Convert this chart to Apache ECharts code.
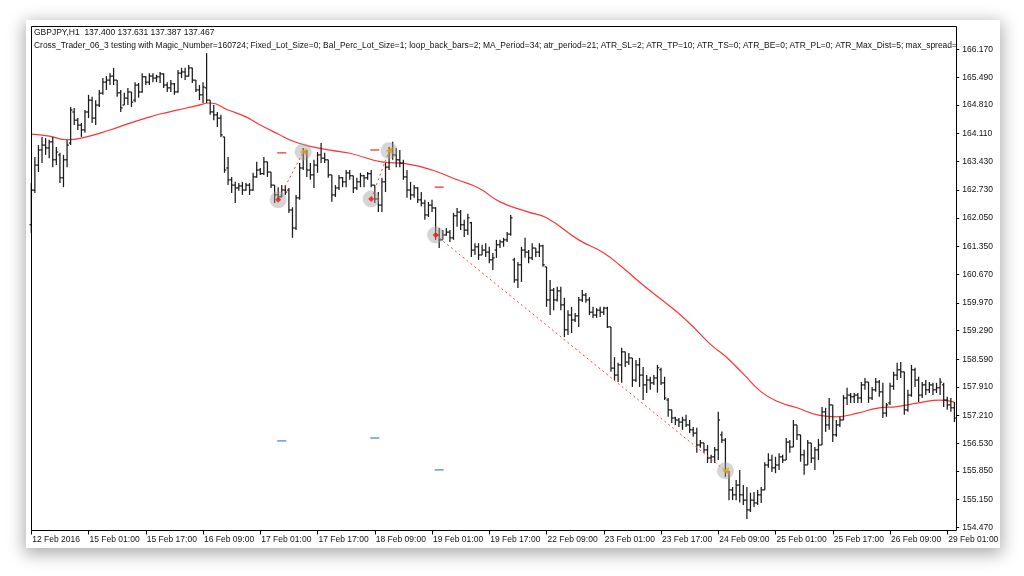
<!DOCTYPE html>
<html><head><meta charset="utf-8">
<script src="https://cdn.jsdelivr.net/npm/echarts@6/dist/echarts.min.js"></script>
<style>
html,body{margin:0;padding:0;background:#fff;}
#wrap{position:relative;width:1024px;height:576px;overflow:hidden;background:#fff;}
#panel{position:absolute;left:26px;top:20px;width:974px;height:528px;background:#fff;box-shadow:0 4px 16px 2px rgba(0,0,0,0.33);}
#chart{position:absolute;left:0;top:0;width:1024px;height:576px;}
</style></head>
<body><div id="wrap"><div id="panel"></div><div id="chart"></div></div>
<script>
// ---- data (GBPJPY H1) ----
const opens = [
161.88,162.73,163.34,163.71,163.83,163.76,163.91,163.47,163.59,163.03,
163.47,163.88,164.64,164.44,164.32,164.20,164.64,164.93,164.49,164.81,
165.10,165.37,165.42,165.52,165.42,165.11,164.81,164.98,165.13,164.93,
165.30,165.13,165.50,165.37,165.52,165.47,165.50,165.57,165.30,165.23,
165.33,165.13,165.59,165.62,165.52,165.72,165.42,165.18,165.06,165.23,
164.93,164.64,164.57,164.49,164.03,163.27,162.98,162.85,162.78,162.83,
162.73,162.85,162.73,163.05,163.22,163.13,163.42,163.17,162.85,162.61,
162.56,162.73,162.73,162.24,161.80,162.54,163.27,163.66,163.22,163.10,
163.34,163.59,163.51,163.47,163.10,162.61,162.78,163.03,162.93,163.15,
163.08,162.78,162.93,163.08,163.03,163.13,162.85,162.51,162.36,162.93,
163.29,163.71,163.59,163.47,163.39,163.05,162.73,162.61,162.78,162.49,
162.41,162.12,162.36,162.29,161.63,161.51,161.63,161.70,161.56,162.10,
162.19,161.88,161.75,161.93,161.26,161.34,161.14,161.26,161.21,161.02,
161.26,161.39,161.46,161.51,161.65,161.02,160.53,160.90,161.26,161.21,
161.07,161.31,161.21,161.36,160.85,160.04,160.28,160.04,160.26,159.92,
159.31,159.67,159.55,159.65,160.04,160.16,160.04,159.74,159.67,159.79,
159.74,159.84,159.38,158.37,158.20,158.45,158.77,158.52,158.62,158.08,
158.45,158.20,157.96,158.08,158.01,158.13,158.33,158.01,157.59,157.35,
157.15,157.10,157.05,157.10,156.98,156.86,156.78,156.49,156.54,156.37,
156.17,156.20,156.37,156.74,156.61,155.83,155.39,155.27,155.51,155.27,
155.14,154.90,155.14,155.07,155.27,155.39,156.00,156.12,155.93,156.00,
156.20,156.12,156.56,156.44,156.98,156.74,156.25,156.00,156.54,156.17,
156.37,156.49,157.30,156.98,157.47,156.74,156.98,157.10,157.64,157.71,
157.67,157.71,157.64,157.96,158.03,157.64,157.84,158.03,157.79,157.27,
157.52,157.93,158.20,158.33,158.28,157.35,157.71,158.33,158.08,157.71,
157.96,157.84,157.96,157.84,157.89,157.96,157.59,157.47,157.40];
const closes = [
162.73,163.34,163.71,163.83,163.76,163.91,163.47,163.66,163.03,163.47,
163.83,164.69,164.44,164.32,164.20,164.64,164.93,164.49,164.81,165.10,
165.37,165.42,165.52,165.42,165.11,164.74,164.98,165.13,164.88,165.30,
165.13,165.50,165.37,165.52,165.47,165.50,165.57,165.30,165.23,165.33,
165.13,165.59,165.62,165.52,165.72,165.42,165.18,165.06,165.25,164.93,
164.64,164.57,164.49,164.08,163.22,162.98,162.85,162.78,162.83,162.73,
162.85,162.73,163.05,163.22,163.13,163.42,163.17,162.85,162.61,162.56,
162.73,162.68,162.24,161.80,162.54,163.27,163.66,163.22,163.10,163.34,
163.59,163.51,163.47,163.10,162.61,162.78,163.03,162.93,163.15,163.08,
162.78,162.93,163.08,163.03,163.13,162.85,162.51,162.36,162.93,163.29,
163.71,163.59,163.47,163.39,163.05,162.73,162.61,162.78,162.49,162.41,
162.12,162.36,162.29,161.63,161.51,161.63,161.70,161.56,162.10,162.19,
161.88,161.75,162.05,161.26,161.34,161.14,161.26,161.21,161.02,161.07,
161.39,161.46,161.51,161.65,162.05,160.53,160.90,161.26,161.21,161.07,
161.31,161.21,161.36,160.90,160.04,160.28,160.04,160.26,159.92,159.31,
159.67,159.55,159.65,160.04,160.16,160.04,159.74,159.67,159.79,159.74,
159.84,159.38,158.37,158.20,158.45,158.77,158.52,158.62,158.08,158.45,
158.20,157.96,158.08,158.01,158.13,158.38,158.01,157.64,157.35,157.15,
157.10,157.05,157.10,156.98,156.86,156.78,156.49,156.54,156.37,156.17,
156.20,156.37,157.10,156.61,155.83,155.39,155.27,155.51,155.27,155.14,
154.90,155.14,155.07,155.27,155.39,156.00,156.12,155.93,156.00,156.20,
156.12,156.56,156.44,156.98,156.74,156.25,156.00,156.54,156.17,156.37,
156.49,157.30,156.98,157.47,156.74,156.98,157.10,157.64,157.71,157.67,
157.71,157.64,157.96,158.03,157.64,157.84,158.03,157.79,157.27,157.47,
157.93,158.20,158.33,158.28,157.35,157.71,158.33,158.08,157.71,157.96,
157.84,157.96,157.84,157.89,158.03,157.59,157.47,157.40,157.15];
const lows = [
161.68,162.66,163.17,163.39,163.59,163.51,163.29,163.34,162.90,162.80,
163.29,163.83,164.32,164.20,164.03,164.13,164.49,164.37,164.32,164.76,
165.06,165.18,165.30,165.30,165.01,164.64,164.81,164.81,164.76,164.88,
164.99,165.11,165.30,165.30,165.37,165.37,165.35,165.23,165.13,165.13,
165.06,165.11,165.47,165.42,165.50,165.35,165.13,164.93,164.86,164.86,
164.57,164.44,164.27,164.03,163.15,162.85,162.66,162.41,162.71,162.61,
162.71,162.61,162.71,163.03,163.10,163.10,163.05,162.78,162.41,162.49,
162.56,162.61,162.17,161.56,161.75,162.49,163.22,163.05,162.98,162.78,
163.15,163.39,163.39,163.03,162.44,162.56,162.73,162.80,162.80,162.98,
162.66,162.73,162.80,162.80,162.98,162.80,162.41,162.19,162.19,162.68,
163.22,163.47,163.29,163.29,162.98,162.54,162.49,162.54,162.41,162.33,
162.00,162.07,162.19,161.51,161.31,161.51,161.61,161.46,161.51,161.83,
161.75,161.58,161.63,161.09,161.14,161.02,161.14,161.09,160.94,160.77,
161.07,161.31,161.34,161.46,161.61,160.46,160.33,160.48,161.07,160.94,
161.02,161.09,161.09,160.85,159.87,159.67,159.79,160.00,159.79,159.13,
159.18,159.23,159.50,159.38,159.99,159.97,159.67,159.60,159.60,159.62,
159.67,159.35,158.28,158.08,158.03,158.01,158.40,158.45,157.91,158.03,
157.91,157.59,157.76,157.84,157.96,157.77,157.96,157.59,157.18,157.03,
156.98,156.93,156.86,156.93,156.78,156.69,156.30,156.42,156.30,156.05,
156.05,156.05,156.12,156.54,155.71,155.14,155.14,155.14,155.08,155.02,
154.68,154.85,154.97,155.02,155.07,155.39,155.93,155.83,155.80,155.88,
156.05,156.12,156.30,156.44,156.61,156.08,155.76,156.00,156.05,155.88,
156.12,156.49,156.81,156.86,156.56,156.69,156.93,157.10,157.47,157.52,
157.52,157.52,157.52,157.84,157.52,157.59,157.79,157.67,157.15,157.18,
157.47,157.84,158.08,158.13,157.23,157.30,157.67,157.91,157.54,157.64,
157.71,157.76,157.71,157.76,157.71,157.42,157.35,157.30,157.05];
const highs = [
162.90,163.54,163.83,164.03,164.00,163.96,164.03,163.78,163.64,163.59,
163.96,164.76,164.74,164.49,164.37,164.69,165.06,165.01,164.93,165.18,
165.47,165.52,165.59,165.72,165.42,165.18,165.11,165.23,165.13,165.37,
165.35,165.59,165.52,165.59,165.59,165.55,165.62,165.59,165.37,165.42,
165.35,165.67,165.72,165.72,165.79,165.72,165.42,165.30,165.37,166.08,
164.93,164.81,164.64,164.57,164.03,163.54,163.05,162.93,162.90,162.93,
162.90,162.90,163.15,163.42,163.27,163.54,163.42,163.17,162.85,162.80,
162.85,162.85,162.78,162.31,162.61,163.39,163.76,163.71,163.39,163.47,
163.66,163.88,163.64,163.47,163.10,162.85,163.10,163.05,163.22,163.22,
163.08,163.03,163.15,163.10,163.17,163.22,162.85,162.68,163.03,163.39,
163.78,163.91,163.76,163.71,163.47,163.22,162.93,162.85,162.80,162.68,
162.49,162.44,162.49,162.31,161.80,161.75,161.80,161.75,162.17,162.29,
162.24,162.00,162.15,161.95,161.43,161.43,161.39,161.43,161.34,161.19,
161.51,161.51,161.56,161.70,162.12,161.07,160.97,161.34,161.56,161.26,
161.43,161.31,161.43,161.39,160.85,160.53,160.33,160.36,160.36,160.09,
159.79,159.87,159.72,160.11,160.28,160.21,160.11,159.87,159.84,159.87,
159.87,159.87,159.38,158.64,158.50,158.87,158.77,158.74,158.62,158.57,
158.62,158.40,158.20,158.16,158.20,158.45,158.38,158.16,157.64,157.35,
157.18,157.15,157.18,157.23,157.10,156.93,156.91,156.61,156.54,156.49,
156.25,156.44,157.30,156.82,156.66,155.85,155.46,155.63,155.88,155.51,
155.46,155.32,155.34,155.39,155.46,156.07,156.29,156.25,156.20,156.29,
156.25,156.66,156.61,157.10,156.98,156.74,156.37,156.61,156.54,156.44,
156.64,157.42,157.40,157.64,157.47,157.10,157.18,157.71,157.89,157.76,
157.76,157.76,158.03,158.13,158.03,157.91,158.13,158.08,158.01,157.52,
158.01,158.28,158.50,158.52,158.28,157.84,158.45,158.38,158.16,158.03,
158.08,158.03,158.01,158.01,158.13,158.01,157.67,157.64,157.54];

// moving average (MA_Period=34) read at sample bars
const maIdx = [0,5,10,14,22,27,32,36,41,46,50,55,60,64,69,73,78,84,89,98,105,112,119,125,131,139,144,153,160,165,172,177,183,190,194,199,204,209,214,220,225,231,237,242,248,254,258];
const maVal = [164.10,164.05,163.96,164.00,164.20,164.35,164.49,164.59,164.69,164.79,164.86,164.69,164.52,164.32,164.10,163.93,163.80,163.70,163.63,163.42,163.37,163.22,162.98,162.78,162.44,162.19,162.05,161.51,161.19,160.85,160.33,159.99,159.55,158.94,158.66,158.23,157.79,157.54,157.40,157.22,157.18,157.27,157.40,157.43,157.52,157.59,157.54];

// trades
const tradeOpenIdx = [69, 95, 113];
const tradeOpenPrice = [162.49, 162.51, 161.63];
const tradeCloseIdx = [76, 100, 194];
const tradeClosePrice = [163.66, 163.69, 155.86];
const levelIdx = [70, 96, 114];
const slPrice = [163.64, 163.71, 162.80];
const tpPrice = [156.59, 156.66, 155.88];

// axis labels
const xTickLabels = ['12 Feb 2016','15 Feb 01:00','15 Feb 17:00','16 Feb 09:00','17 Feb 01:00','17 Feb 17:00','18 Feb 09:00','19 Feb 01:00','19 Feb 17:00','22 Feb 09:00','23 Feb 01:00','23 Feb 17:00','24 Feb 09:00','25 Feb 01:00','25 Feb 17:00','26 Feb 09:00','29 Feb 01:00'];
const yTickLabels = ['154.470','155.150','155.850','156.530','157.210','157.910','158.590','159.290','159.970','160.670','161.350','162.050','162.730','163.430','164.110','164.810','165.490','166.170'];

const headerLine1 = 'GBPJPY,H1  137.400 137.631 137.387 137.467';
const headerLine2 = 'Cross_Trader_06_3 testing with Magic_Number=160724; Fixed_Lot_Size=0; Bal_Perc_Lot_Size=1; loop_back_bars=2; MA_Period=34; atr_period=21; ATR_SL=2; ATR_TP=10; ATR_TS=0; ATR_BE=0; ATR_PL=0; ATR_Max_Dist=5; max_spread=';

// hourly categories (weekdays only) starting 12 Feb 2016 09:00
const MONTHS = ['Jan','Feb','Mar','Apr','May','Jun','Jul','Aug','Sep','Oct','Nov','Dec'];
const categories = [];
(function(){
  let t = Date.UTC(2016, 1, 12, 9);
  while (categories.length < opens.length) {
    const d = new Date(t); const wd = d.getUTCDay();
    if (wd !== 0 && wd !== 6) {
      categories.push(d.getUTCDate() + ' ' + MONTHS[d.getUTCMonth()] + ' ' + String(d.getUTCHours()).padStart(2,'0') + ':00');
    }
    t += 3600000;
  }
})();

const FONT = '"Liberation Sans", Arial, sans-serif';
const FS = 8.5;
const ohlc = opens.map((o, i) => [i, o, closes[i], lows[i], highs[i]]);

const chart = echarts.init(document.getElementById('chart'), null, {renderer: 'canvas'});

const series = [
  {
    type: 'line', name: 'MA', data: maIdx.map((x, k) => [x, maVal[k]]),
    showSymbol: false, smooth: 0.5, silent: true, z: 3,
    lineStyle: {color: '#ff3333', width: 1.2}
  },
  {
    type: 'custom', name: 'GBPJPY', data: ohlc, z: 4,
    encode: {x: 0, y: [1, 2, 3, 4]},
    renderItem: function (params, api) {
      const i = api.value(0);
      const o = api.coord([i, api.value(1)]);
      const c = api.coord([i, api.value(2)]);
      const l = api.coord([i, api.value(3)]);
      const h = api.coord([i, api.value(4)]);
      const x = o[0];
      const st = {stroke: '#1a1a1a', lineWidth: 1.25};
      return {type: 'group', children: [
        {type: 'line', shape: {x1: x, y1: h[1], x2: x, y2: l[1]}, style: st},
        {type: 'line', shape: {x1: x - 1.8, y1: o[1], x2: x, y2: o[1]}, style: st},
        {type: 'line', shape: {x1: x, y1: c[1], x2: x + 1.8, y2: c[1]}, style: st}
      ]};
    }
  }
];
tradeOpenIdx.forEach((oi, k) => {
  series.push({
    type: 'line', data: [[oi, tradeOpenPrice[k]], [tradeCloseIdx[k], tradeClosePrice[k]]],
    showSymbol: false, silent: true, z: 5,
    lineStyle: {color: '#ff3a3a', width: 1, type: [2, 3]}
  });
});
series.push({
  type: 'scatter', silent: true, z: 6, symbolSize: 17,
  data: tradeOpenIdx.map((x, k) => [x, tradeOpenPrice[k]]).concat(tradeCloseIdx.map((x, k) => [x, tradeClosePrice[k]])),
  itemStyle: {color: 'rgba(160,160,160,0.55)'}
});
series.push({
  type: 'scatter', silent: true, z: 7, symbol: 'diamond', symbolSize: 6,
  data: tradeOpenIdx.map((x, k) => [x, tradeOpenPrice[k]]),
  itemStyle: {color: '#ff1010'}
});
series.push({
  type: 'scatter', silent: true, z: 7, symbol: 'triangle', symbolRotate: 90, symbolSize: [7, 7],
  data: tradeCloseIdx.map((x, k) => [x, tradeClosePrice[k]]),
  itemStyle: {color: '#f0a010'}
});
series.push({
  type: 'scatter', silent: true, z: 6, symbol: 'rect', symbolSize: [9, 1.5],
  data: levelIdx.map((x, k) => [x, slPrice[k]]),
  itemStyle: {color: '#ff2020'}
});
series.push({
  type: 'scatter', silent: true, z: 6, symbol: 'rect', symbolSize: [9, 1.5],
  data: levelIdx.map((x, k) => [x, tpPrice[k]]),
  itemStyle: {color: '#3a7fd5'}
});

const yVals = yTickLabels.map(Number);

chart.setOption({
  animation: false,
  backgroundColor: 'transparent',
  grid: {left: 29.5, right: 1024 - 956.2, top: 27, bottom: 48.5, containLabel: false},
  xAxis: {
    type: 'category', data: categories, boundaryGap: true, offset: 3,
    axisLine: {show: false},
    axisTick: {show: true, interval: 15, alignWithLabel: true, length: 4, lineStyle: {color: '#000'}},
    axisLabel: {interval: 15, align: 'left', margin: 5, fontSize: FS, fontFamily: FONT, color: '#111',
      padding: [0, 0, 0, 1],
      formatter: function (v, idx) { const k = idx / 16; return Number.isInteger(k) && xTickLabels[k] ? xTickLabels[k] : ''; }},
    splitLine: {show: false}
  },
  yAxis: {
    type: 'value', position: 'right', min: 154.47, max: 166.72,
    axisLine: {show: false}, splitLine: {show: false},
    axisTick: {show: true, length: 3, customValues: yVals, lineStyle: {color: '#000'}},
    axisLabel: {customValues: yVals, margin: 6, fontSize: FS, fontFamily: FONT, color: '#111',
      formatter: function (v) { return v.toFixed(3); }}
  },
  graphic: [
    {type: 'rect', silent: true, z: 100, shape: {x: 31.5, y: 26.5, width: 925, height: 504},
      style: {fill: null, stroke: '#000', lineWidth: 1}},
    {type: 'text', silent: true, z: 100, x: 34, y: 33,
      style: {text: headerLine1, fontSize: FS, fontFamily: FONT, fill: '#111', verticalAlign: 'middle'}},
    {type: 'text', silent: true, z: 100, x: 34, y: 46,
      style: {text: headerLine2, fontSize: 8.45, fontFamily: FONT, fill: '#111', verticalAlign: 'middle'}}
  ],
  series: series
});
</script></body></html>
